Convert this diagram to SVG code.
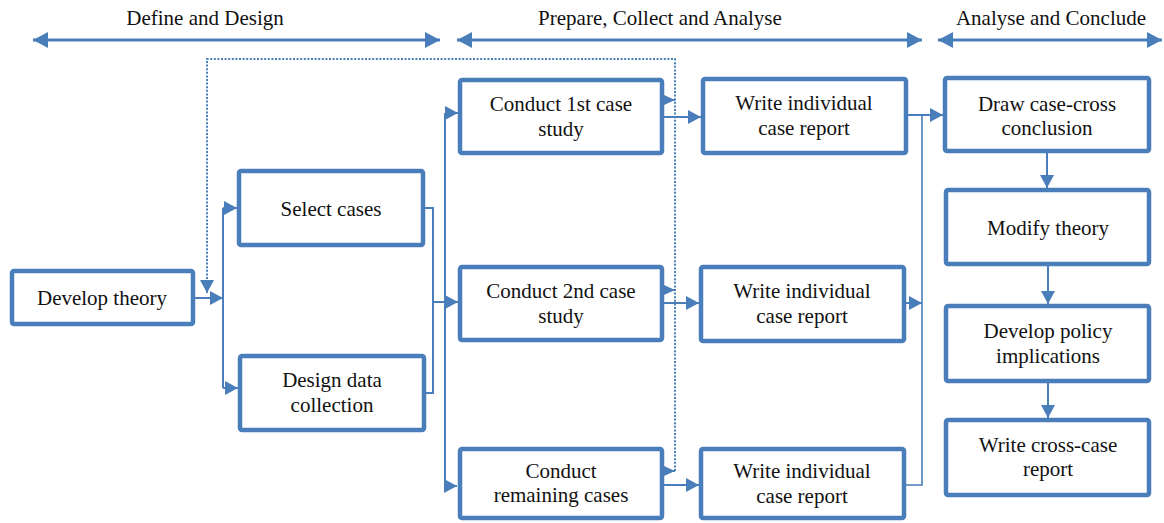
<svg xmlns="http://www.w3.org/2000/svg" width="1164" height="523" viewBox="0 0 1164 523" font-family="Liberation Serif, DejaVu Serif, serif">
  <defs>
    <style>
      .box { fill: #ffffff; stroke: #4a7ebb; stroke-width: 4.5; }
      .lbl { font-family: 'Liberation Serif', 'DejaVu Serif', serif; font-size: 21px; fill: #111111; text-anchor: middle; }
      .con { fill: none; stroke: #4a7ebb; stroke-width: 2; }
      .thin { fill: none; stroke: #4a7ebb; stroke-width: 1.6; }
      .phase { fill: none; stroke: #4a7ebb; stroke-width: 2.8; }
      .dot { fill: none; stroke: #4a7ebb; stroke-width: 2; stroke-dasharray: 2 1.6; }
    </style>
    <marker id="ah" viewBox="0 0 13 14" refX="13" refY="7" markerWidth="13" markerHeight="14" markerUnits="userSpaceOnUse" orient="auto">
      <path d="M0,0 L13,7 L0,14 z" fill="#4a7ebb"/>
    </marker>
    <marker id="ahs" viewBox="0 0 11 10" refX="11" refY="5" markerWidth="11" markerHeight="10" markerUnits="userSpaceOnUse" orient="auto">
      <path d="M0,0 L11,5 L0,10 z" fill="#4a7ebb"/>
    </marker>
    <marker id="ahp" viewBox="0 0 15 16" refX="15" refY="8" markerWidth="15" markerHeight="16" markerUnits="userSpaceOnUse" orient="auto-start-reverse">
      <path d="M0,0 L15,8 L0,16 z" fill="#4a7ebb"/>
    </marker>
  </defs>

  <!-- phase headers -->
  <g id="phases">
    <text class="lbl" x="205" y="25">Define and Design</text>
    <text class="lbl" x="660" y="25">Prepare, Collect and Analyse</text>
    <text class="lbl" x="1051" y="25">Analyse and Conclude</text>
    <path class="phase" d="M33,40 H440" marker-start="url(#ahp)" marker-end="url(#ahp)"/>
    <path class="phase" d="M457,40 H922" marker-start="url(#ahp)" marker-end="url(#ahp)"/>
    <path class="phase" d="M938,40 H1162" marker-start="url(#ahp)" marker-end="url(#ahp)"/>
  </g>

  <!-- connectors -->
  <g id="connectors">
    <!-- feedback loop (dotted) -->
    <path class="dot" d="M675,471 V59 H207 V293" marker-end="url(#ah)"/>
    <!-- develop theory fan-out -->
    <path class="con" d="M195,298 H223" marker-end="url(#ah)"/>
    <path class="con" d="M223,208 V388"/>
    <path class="con" d="M223,208 H237" marker-end="url(#ah)"/>
    <path class="con" d="M223,388 H238" marker-end="url(#ah)"/>
    <!-- select / design merge -->
    <path class="con" d="M425,208 H433 V393 H426"/>
    <path class="con" d="M433,302 H445"/>
    <!-- case study fan-out -->
    <path class="con" d="M445,113 V486"/>
    <path class="con" d="M445,113 H458" marker-end="url(#ah)"/>
    <path class="con" d="M445,302 H458" marker-end="url(#ah)"/>
    <path class="con" d="M445,486 H457" marker-end="url(#ah)"/>
    <!-- case study to report -->
    <path class="con" d="M664,117 H701" marker-end="url(#ah)"/>
    <path class="con" d="M664,303 H699" marker-end="url(#ah)"/>
    <path class="con" d="M664,485 H699" marker-end="url(#ah)"/>
    <!-- case study to feedback loop -->
    <path class="con" d="M664,100 H675" marker-end="url(#ahs)"/>
    <path class="con" d="M664,290 H675" marker-end="url(#ahs)"/>
    <path class="con" d="M664,471 H675" marker-end="url(#ahs)"/>
    <!-- reports merge into conclusion -->
    <path class="con" d="M908,115 H943" marker-end="url(#ah)"/>
    <path class="thin" d="M922,115 V485 H906"/>
    <path class="con" d="M906,303 H922" marker-end="url(#ah)"/>
    <!-- conclusion chain -->
    <path class="con" d="M1047,153 V188" marker-end="url(#ah)"/>
    <path class="con" d="M1048,266 V304" marker-end="url(#ah)"/>
    <path class="con" d="M1048,383 V418" marker-end="url(#ah)"/>
  </g>

  <g id="develop-theory">
    <rect class="box" x="12" y="271" width="181" height="53" rx="2"/>
    <text class="lbl" x="102" y="305">Develop theory</text>
  </g>
  <g id="select-cases">
    <rect class="box" x="239" y="171" width="184" height="74" rx="2"/>
    <text class="lbl" x="331" y="216">Select cases</text>
  </g>
  <g id="design-data-collection">
    <rect class="box" x="240" y="356" width="184" height="74" rx="2"/>
    <text class="lbl" x="332" y="387">Design data</text>
    <text class="lbl" x="332" y="412">collection</text>
  </g>
  <g id="conduct-1st">
    <rect class="box" x="460" y="80" width="202" height="73" rx="2"/>
    <text class="lbl" x="561" y="111">Conduct 1st case</text>
    <text class="lbl" x="561" y="136">study</text>
  </g>
  <g id="conduct-2nd">
    <rect class="box" x="460" y="267" width="202" height="73" rx="2"/>
    <text class="lbl" x="561" y="298">Conduct 2nd case</text>
    <text class="lbl" x="561" y="323">study</text>
  </g>
  <g id="conduct-remaining">
    <rect class="box" x="460" y="449" width="202" height="69" rx="2"/>
    <text class="lbl" x="561" y="478">Conduct</text>
    <text class="lbl" x="561" y="502">remaining cases</text>
  </g>
  <g id="report-1">
    <rect class="box" x="703" y="79" width="203" height="74" rx="2"/>
    <text class="lbl" x="804" y="110">Write individual</text>
    <text class="lbl" x="804" y="135">case report</text>
  </g>
  <g id="report-2">
    <rect class="box" x="701" y="267" width="203" height="74" rx="2"/>
    <text class="lbl" x="802" y="298">Write individual</text>
    <text class="lbl" x="802" y="323">case report</text>
  </g>
  <g id="report-3">
    <rect class="box" x="701" y="449" width="203" height="69" rx="2"/>
    <text class="lbl" x="802" y="478">Write individual</text>
    <text class="lbl" x="802" y="503">case report</text>
  </g>
  <g id="cross-conclusion">
    <rect class="box" x="945" y="78" width="204" height="73" rx="2"/>
    <text class="lbl" x="1047" y="111">Draw case-cross</text>
    <text class="lbl" x="1047" y="135">conclusion</text>
  </g>
  <g id="modify-theory">
    <rect class="box" x="946" y="190" width="203" height="74" rx="2"/>
    <text class="lbl" x="1048" y="235">Modify theory</text>
  </g>
  <g id="policy-implications">
    <rect class="box" x="946" y="306" width="203" height="75" rx="2"/>
    <text class="lbl" x="1048" y="338">Develop policy</text>
    <text class="lbl" x="1048" y="363">implications</text>
  </g>
  <g id="cross-case-report">
    <rect class="box" x="946" y="420" width="203" height="75" rx="2"/>
    <text class="lbl" x="1048" y="452">Write cross-case</text>
    <text class="lbl" x="1048" y="476">report</text>
  </g>
</svg>
